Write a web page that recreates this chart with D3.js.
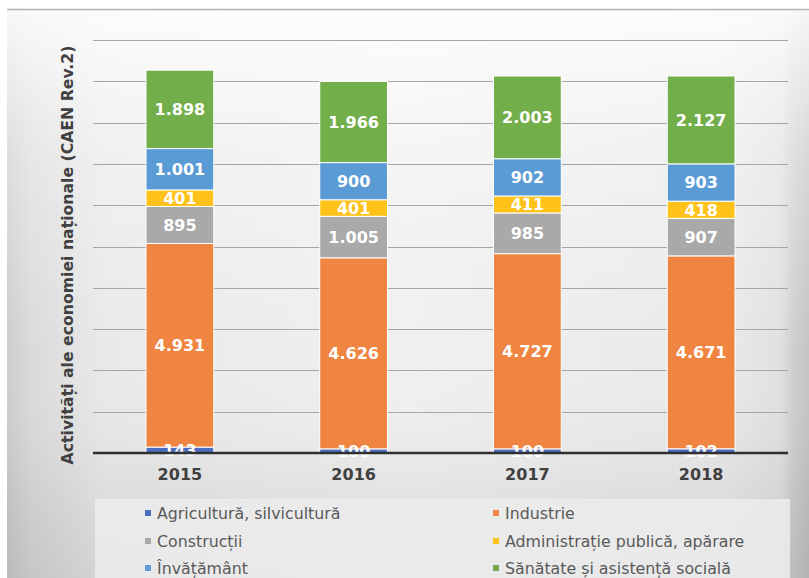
<!DOCTYPE html>
<html><head><meta charset="utf-8">
<script src="https://cdn.jsdelivr.net/npm/d3@7"></script>
<style>body{margin:0;background:#fff}svg{display:block}</style>
</head><body>
<svg id="c" width="809" height="578"></svg>
<script>
const years = ["2015","2016","2017","2018"];
const seriesNames = ["Agricultură, silvicultură","Industrie","Construcții","Administrație publică, apărare","Învățământ","Sănătate și asistență socială"];
const agricultura = [143,100,100,102];
const industrie = [4931,4626,4727,4671];
const constructii = [895,1005,985,907];
const administratie = [401,401,411,418];
const invatamant = [1001,900,902,903];
const sanatate = [1898,1966,2003,2127];
const colors = ["#4a6cc2","#ef8540","#a9a9a9","#ffc21a","#5b9bd5","#72ae4a"];
const yTicks = [0,1000,2000,3000,4000,5000,6000,7000,8000,9000,10000];
const axisTitle = "Activități ale economiei naționale (CAEN Rev.2)";

(function(){
const seriesVals = [agricultura,industrie,constructii,administratie,invatamant,sanatate];
const table = years.map((yr,i)=>{const o={year:yr};seriesNames.forEach((s,k)=>o[s]=seriesVals[k][i]);return o;});
const stack = d3.stack().keys(seriesNames)(table);

const svg = d3.select("#c");
const defs = svg.append("defs");
const hg = defs.append("linearGradient").attr("id","hg").attr("x1","0").attr("x2","1").attr("y1","0").attr("y2","0");
[[0,"#cdcdcd"],[0.03,"#dadada"],[0.12,"#e9e9e9"],[0.5,"#f0f0f0"],[0.9,"#e9e9e9"],[0.965,"#e0e0e0"],[0.98,"#cfcfcf"],[1,"#c4c4c4"]].forEach(([o,c])=>hg.append("stop").attr("offset",o).attr("stop-color",c));
const vg = defs.append("linearGradient").attr("id","vg").attr("x1","0").attr("x2","0").attr("y1","0").attr("y2","1");
[[0,"#ffffff",0.85],[0.25,"#ffffff",0.35],[0.6,"#ffffff",0],[0.85,"#000000",0.05],[1,"#000000",0.09]].forEach(([o,c,a])=>vg.append("stop").attr("offset",o).attr("stop-color",c).attr("stop-opacity",a));

svg.append("rect").attr("x",7).attr("y",9).attr("width",802).attr("height",569).attr("fill","url(#hg)");
svg.append("rect").attr("x",7).attr("y",9).attr("width",802).attr("height",569).attr("fill","url(#vg)");
svg.append("line").attr("x1",7).attr("x2",809).attr("y1",9.5).attr("y2",9.5).attr("stroke","#b4b4b4").attr("stroke-width",1.5);

svg.append("rect").attr("x",95).attr("y",499).attr("width",695).attr("height",79).attr("fill","#ececec").attr("opacity",0.85);

const pl=93,pr=788,pt=40,pb=453;
const x = d3.scaleBand().domain(years).range([pl,pr]).paddingInner(0.61).paddingOuter(0.305);
const y = d3.scaleLinear().domain([0,10000]).range([pb,pt]);

svg.append("g").selectAll("line").data(yTicks.slice(1)).join("line")
  .attr("x1",pl).attr("x2",pr).attr("y1",d=>Math.round(y(d))+0.5).attr("y2",d=>Math.round(y(d))+0.5)
  .attr("stroke","#a6a6a6").attr("stroke-width",1);

const g = svg.append("g");
stack.forEach((s,k)=>{
  g.append("g").selectAll("rect").data(s).join("rect")
    .attr("x",d=>x(d.data.year)).attr("width",x.bandwidth())
    .attr("y",d=>y(d[1])).attr("height",d=>y(d[0])-y(d[1]))
    .attr("fill",colors[k]).attr("stroke","#ffffff").attr("stroke-width",1);
});
stack.forEach((s,k)=>{
  g.append("g").selectAll("text").data(s).join("text")
    .attr("x",d=>x(d.data.year)+x.bandwidth()/2)
    .attr("y",d=>(y(d[0])+y(d[1]))/2)
    .attr("dy","0.36em").attr("text-anchor","middle")
    .attr("font-family","DejaVu Sans").attr("font-weight","bold").attr("font-size",16)
    .attr("fill","#ffffff")
    .text(d=>d3.format(",")(d[1]-d[0]).replace(/,/g,"."));
});

svg.append("line").attr("x1",pl).attr("x2",pr).attr("y1",pb).attr("y2",pb).attr("stroke","#2f2f2f").attr("stroke-width",2.5);

const xa = svg.append("g").attr("transform",`translate(0,${pb})`).call(d3.axisBottom(x).tickSize(0).tickPadding(16));
xa.select(".domain").remove();
xa.selectAll("text").attr("font-family","DejaVu Sans").attr("font-weight","bold").attr("font-size",16).attr("fill","#404040");

svg.append("text").attr("transform","translate(73,255) rotate(-90)").attr("text-anchor","middle")
  .attr("font-family","DejaVu Sans").attr("font-weight","bold").attr("font-size",15.7).attr("fill","#404040")
  .text(axisTitle);

const legPos = [[145,513],[493,513],[145,541],[493,541],[145,568],[493,568]];
const lg = svg.append("g");
seriesNames.forEach((n,k)=>{
  const [lx,ly]=legPos[k];
  lg.append("rect").attr("x",lx).attr("y",ly-3).attr("width",6).attr("height",6).attr("fill",colors[k]);
  lg.append("text").attr("x",lx+12).attr("y",ly).attr("dy","0.36em")
    .attr("font-family","DejaVu Sans").attr("font-size",15.8).attr("fill","#595959").text(n);
});
})();
</script>
</body></html>
